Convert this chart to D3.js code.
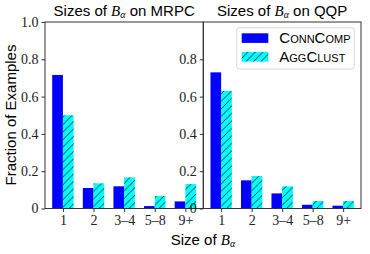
<!DOCTYPE html>
<meta charset="utf-8"/>
<html>
  <head>
    <script src="https://d3js.org/d3.v7.min.js"></script>
    <style>
      body { margin: 0; background: white; }
      .lab { font-family: 'Liberation Sans', Arial, sans-serif; font-size: 15px; fill: #000; }
    </style>
  </head>
  <body>
<script type="text/javascript">
var categories = ['1', '2', '3\u20134', '5\u20138', '9+'];
var series = ['ConnComp', 'AggClust'];
var mrpcConn = [0.716, 0.110, 0.119, 0.013, 0.038];
var mrpcAgg = [0.500, 0.135, 0.167, 0.067, 0.131];
var qqpConn = [0.730, 0.151, 0.081, 0.020, 0.015];
var qqpAgg = [0.630, 0.174, 0.119, 0.040, 0.040];
var leftTicks = [0, 0.2, 0.4, 0.6, 0.8, 1.0];
var rightTicks = [0, 0.2, 0.4, 0.6, 0.8];

var W = 370, H = 254;
var yTop = 22, yBot = 208.5;
var svg = d3.select('body').append('svg')
    .attr('width', W)
    .attr('height', H);

var P = 7.5;
var defs = svg.append('defs');
var pat = defs.append('pattern')
    .attr('id', 'hatch')
    .attr('patternUnits', 'userSpaceOnUse')
    .attr('width', P)
    .attr('height', P);
pat.append('rect').attr('width', P).attr('height', P).attr('fill', '#00ffff');
pat.append('path')
    .attr('d', 'M-1,' + (P + 1) + ' L' + (P + 1) + ',-1 M-2,2 L2,-2 M' + (P - 2) + ',' + (P + 2) + ' L' + (P + 2) + ',' + (P - 2))
    .attr('stroke', 'black')
    .attr('stroke-width', 0.8);

var y = d3.scaleLinear().domain([0, 1]).range([yBot, yTop]);

function fmt(d) { return d === 0 ? '0' : d.toFixed(1); }

function panel(x0, x1, conn, agg, ticks, title) {
  var x = d3.scaleLinear().domain([-0.585, 4.585]).range([x0, x1]);
  var g = svg.append('g');
  var w = x(0.35) - x(0);

  g.selectAll('rect.conn')
      .data(conn)
      .enter()
      .append('rect')
      .attr('x', function(d, i) { return x(i) - w; })
      .attr('y', function(d) { return y(d); })
      .attr('width', w)
      .attr('height', function(d) { return y(0) - y(d); })
      .attr('fill', '#0000ff');
  g.selectAll('rect.agg')
      .data(agg)
      .enter()
      .append('rect')
      .attr('x', function(d, i) { return x(i); })
      .attr('y', function(d) { return y(d); })
      .attr('width', w)
      .attr('height', function(d) { return y(0) - y(d); })
      .attr('fill', 'url(#hatch)');

  var ya = g.append('g')
      .attr('transform', 'translate(' + x0 + ',0)')
      .call(d3.axisLeft(y).tickValues(ticks).tickFormat(fmt).tickSize(3.5).tickPadding(3));
  ya.select('.domain').remove();
  var xa = g.append('g')
      .attr('transform', 'translate(0,' + yBot + ')')
      .call(d3.axisBottom(x).tickValues(d3.range(categories.length))
        .tickFormat(function(i) { return categories[i]; }).tickSize(3.5).tickPadding(3));
  xa.select('.domain').remove();
  g.selectAll('.tick line').attr('stroke', '#333');
  g.selectAll('.tick text')
      .attr('font-family', 'Liberation Serif, serif')
      .attr('font-size', 14)
      .attr('fill', '#222');

  g.append('rect')
      .attr('x', x0).attr('y', yTop)
      .attr('width', x1 - x0).attr('height', yBot - yTop)
      .attr('fill', 'none')
      .attr('stroke', '#333')
      .attr('stroke-width', 1);

  var t = svg.append('text')
      .attr('class', 'lab')
      .attr('x', (x0 + x1) / 2)
      .attr('y', 16)
      .attr('text-anchor', 'middle');
  t.append('tspan').text('Sizes of ');
  t.append('tspan').attr('font-family', 'Liberation Serif, serif').attr('font-style', 'italic').text('B');
  t.append('tspan').attr('font-family', 'Liberation Serif, serif').attr('font-style', 'italic')
      .attr('font-size', 10).attr('dy', 2).text('\u03b1');
  t.append('tspan').attr('dy', -2).text(' on ' + title);
}

panel(45, 203.3, mrpcConn, mrpcAgg, leftTicks, 'MRPC');
panel(203.3, 361, qqpConn, qqpAgg, rightTicks, 'QQP');

// axis labels
svg.append('text')
    .attr('class', 'lab')
    .attr('transform', 'translate(15.5,115) rotate(-90)')
    .attr('text-anchor', 'middle')
    .text('Fraction of Examples');
var xl = svg.append('text')
    .attr('class', 'lab')
    .attr('x', 203)
    .attr('y', 245)
    .attr('text-anchor', 'middle');
xl.append('tspan').text('Size of ');
xl.append('tspan').attr('font-family', 'Liberation Serif, serif').attr('font-style', 'italic').text('B');
xl.append('tspan').attr('font-family', 'Liberation Serif, serif').attr('font-style', 'italic')
    .attr('font-size', 10).attr('dy', 2).text('\u03b1');

// legend
var lg = svg.append('g');
lg.append('rect')
    .attr('x', 236.7).attr('y', 27.7)
    .attr('width', 117.6).attr('height', 41.3)
    .attr('rx', 2.5)
    .attr('fill', 'white')
    .attr('fill-opacity', 0.8)
    .attr('stroke', '#d0d0d0')
    .attr('stroke-width', 0.8);
var fills = ['#0000ff', 'url(#hatch)'];
lg.selectAll('rect.sw')
    .data(series)
    .enter()
    .append('rect')
    .attr('x', 241.7)
    .attr('y', function(d, i) { return 33.3 + i * 18.7; })
    .attr('width', 26.6)
    .attr('height', 9.6)
    .attr('fill', function(d, i) { return fills[i]; });
lg.selectAll('text.lt')
    .data(series)
    .enter()
    .append('text')
    .attr('class', 'lab')
    .attr('x', 279.3)
    .attr('y', function(d, i) { return 43.3 + i * 18.7; })
    .style('font-variant', 'small-caps')
    .text(function(d) { return d; });
</script>
  </body>
</html>
